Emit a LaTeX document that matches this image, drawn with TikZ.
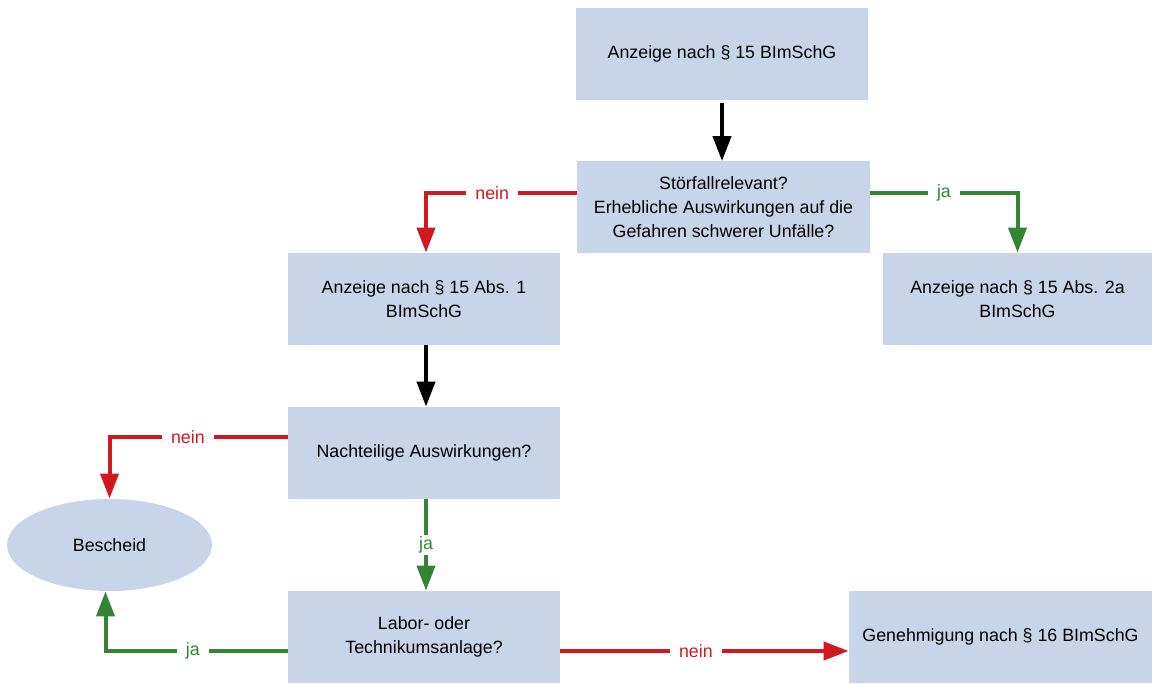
\documentclass[tikz,border=0pt]{standalone}
\usepackage{fontspec}
\setmainfont{Liberation Sans}
\usepackage{xcolor}
\usetikzlibrary{shapes,arrows.meta,positioning,calc}
\definecolor{boxblue}{HTML}{C8D5E8}
\definecolor{nored}{HTML}{D0181E}
\definecolor{yesgreen}{HTML}{338533}

\begin{document}
\begin{tikzpicture}[
    x=0.5pt, y=-0.5pt,
    box/.style={rectangle, fill=boxblue, minimum height=46pt, inner sep=0pt, align=center, font=\fontsize{8.9}{12}\selectfont},
    oval/.style={ellipse, fill=boxblue, minimum width=102.5pt, minimum height=46pt, inner sep=0pt, font=\fontsize{8.9}{12}\selectfont},
    arrow/.style={-{Triangle[length=12.5pt, width=9pt]}, line width=2pt},
    lbl/.style={fill=white, inner xsep=4.6pt, inner ysep=1pt, font=\fontsize{8.9}{12}\selectfont}
]
    \useasboundingbox (0,0) rectangle (1152,684);

    \node[box, minimum width=146pt] (anzeige) at (722,54) {Anzeige nach § 15 BImSchG};
    \node[box, minimum width=146.5pt] (stoerfall) at (723.5,207.5) {Störfallrelevant?\\ Erhebliche Auswirkungen auf die\\ Gefahren schwerer Unfälle?};
    \node[box, minimum width=136pt] (absEins) at (424,299) {Anzeige nach § 15 Abs. 1\\ BImSchG};
    \node[box, minimum width=134.5pt] (absZwei) at (1017.5,299) {Anzeige nach § 15 Abs. 2a\\ BImSchG};
    \node[box, minimum width=136pt] (nachteil) at (424,453) {Nachteilige Auswirkungen?};
    \node[box, minimum width=136pt] (labor) at (424,637) {Labor- oder\\ Technikumsanlage?};
    \node[box, minimum width=151.5pt] (genehm) at (1000.5,637) {Genehmigung nach § 16 BImSchG};
    \node[oval] (bescheid) at (109.5,545) {Bescheid};

    \draw[arrow] ([yshift=-1.5pt]anzeige.south) -- (anzeige.south |- stoerfall.north);
    \draw[arrow, nored] ([yshift=7.25pt]stoerfall.west) -| node[lbl, pos=0.28, text=nored] {nein} ([xshift=1pt]absEins.north);
    \draw[arrow, yesgreen] ([yshift=7.25pt]stoerfall.east) -| node[lbl, pos=0.25, text=yesgreen] {ja} (absZwei.north);
    \draw[arrow] ([xshift=1pt]absEins.south) -- ([xshift=1pt]nachteil.north);
    \draw[arrow, nored] ([yshift=8pt]nachteil.west) -| node[lbl, pos=0.28, text=nored] {nein} (bescheid.north);
    \draw[arrow, yesgreen] ([xshift=1pt]nachteil.south) -- node[lbl, text=yesgreen] {ja} ([xshift=1pt]labor.north);
    \draw[arrow, yesgreen] ([yshift=-7pt]labor.west) -| node[lbl, pos=0.26, text=yesgreen] {ja} ([xshift=-2pt]bescheid.south);
    \draw[arrow, nored] ([yshift=-7pt]labor.east) -- node[lbl, pos=0.47, text=nored] {nein} ([yshift=-7pt]genehm.west);
\end{tikzpicture}
\end{document}
